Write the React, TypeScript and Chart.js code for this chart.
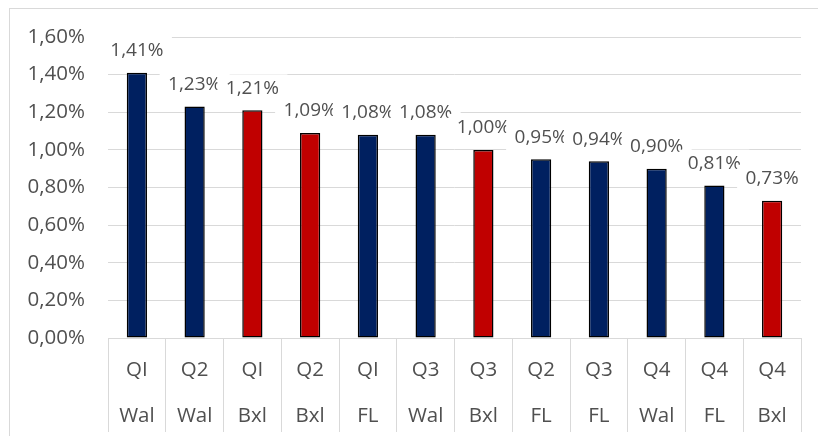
import React, { useEffect, useRef } from "react";
import { Chart, registerables } from "chart.js";

Chart.register(...registerables);

const quarters = ["QI", "Q2", "QI", "Q2", "QI", "Q3", "Q3", "Q2", "Q3", "Q4", "Q4", "Q4"];
const regions = ["Wal", "Wal", "Bxl", "Bxl", "FL", "Wal", "Bxl", "FL", "FL", "Wal", "FL", "Bxl"];
const values = [1.41, 1.23, 1.21, 1.09, 1.08, 1.08, 1.0, 0.95, 0.94, 0.9, 0.81, 0.73];
const yMin = 0;
const yMax = 1.6;
const yStep = 0.2;

const NAVY = "#002060";
const RED = "#C00000";
const TEXT = "#505050";
const GRID = "#d9d9d9";
const FONT = "'Open Sans', 'DejaVu Sans', sans-serif";

const fmt = (v: number) => v.toFixed(2).replace(".", ",") + "%";

const labelPlugin = {
  id: "valueLabels",
  afterDatasetsDraw(chart: any) {
    const ctx = chart.ctx;
    const meta = chart.getDatasetMeta(0);
    ctx.save();
    ctx.font = `19px ${FONT}`;
    ctx.textAlign = "center";
    ctx.textBaseline = "middle";
    meta.data.forEach((bar: any, i: number) => {
      const { x, y } = bar.getProps(["x", "y"], true);
      const cy = y - 22;
      ctx.fillStyle = "#ffffff";
      ctx.fillRect(x - 35, cy - 14, 70, 28);
      ctx.fillStyle = TEXT;
      ctx.fillText(fmt(values[i]), x, cy);
    });
    ctx.restore();
  },
};

const framePlugin = {
  id: "frame",
  beforeDraw(chart: any) {
    const ctx = chart.ctx;
    ctx.save();
    ctx.fillStyle = "#ffffff";
    ctx.fillRect(0, 0, chart.width, chart.height);
    ctx.strokeStyle = GRID;
    ctx.lineWidth = 1;
    ctx.strokeRect(9.5, 8.5, chart.width, chart.height);
    ctx.restore();
  },
};

export default function App() {
  const ref = useRef<HTMLCanvasElement | null>(null);

  useEffect(() => {
    if (!ref.current) return;
    const chart = new Chart(ref.current, {
      type: "bar",
      data: {
        labels: quarters.map((q, i) => [q, regions[i]]),
        datasets: [
          {
            data: values,
            backgroundColor: regions.map((r) => (r === "Bxl" ? RED : NAVY)),
            borderColor: "#000000",
            borderWidth: 1.5,
            borderSkipped: false,
            barPercentage: 0.35,
            categoryPercentage: 1,
          },
        ],
      },
      options: {
        animation: false,
        responsive: false,
        devicePixelRatio: 1,
        layout: { padding: { top: 37, left: 0, right: 17, bottom: 0 } },
        plugins: {
          legend: { display: false },
          tooltip: { enabled: false },
        },
        scales: {
          x: {
            grid: {
              offset: true,
              drawOnChartArea: false,
              drawTicks: true,
              tickLength: 94,
              color: GRID,
            },
            border: { display: true, color: GRID },
            ticks: {
              padding: -85,
              color: TEXT,
              font: { family: FONT, size: 20.5, lineHeight: 2.25 },
              maxRotation: 0,
              autoSkip: false,
            },
            afterFit(scale: any) {
              scale.height = 98;
            },
          },
          y: {
            min: yMin,
            max: yMax,
            grid: { color: GRID, drawTicks: false },
            border: { display: false },
            ticks: {
              stepSize: yStep,
              padding: 23,
              color: TEXT,
              font: { family: FONT, size: 20.5 },
              callback: (v: any) => fmt(Number(v)),
            },
            afterFit(scale: any) {
              scale.width = 108;
            },
          },
        },
      },
      plugins: [framePlugin, labelPlugin],
    });
    return () => chart.destroy();
  }, []);

  return (
    <div style={{ position: "absolute", left: 0, top: 0, width: 818, height: 436 }}>
      <canvas ref={ref} width={818} height={436} style={{ display: "block" }} />
    </div>
  );
}
